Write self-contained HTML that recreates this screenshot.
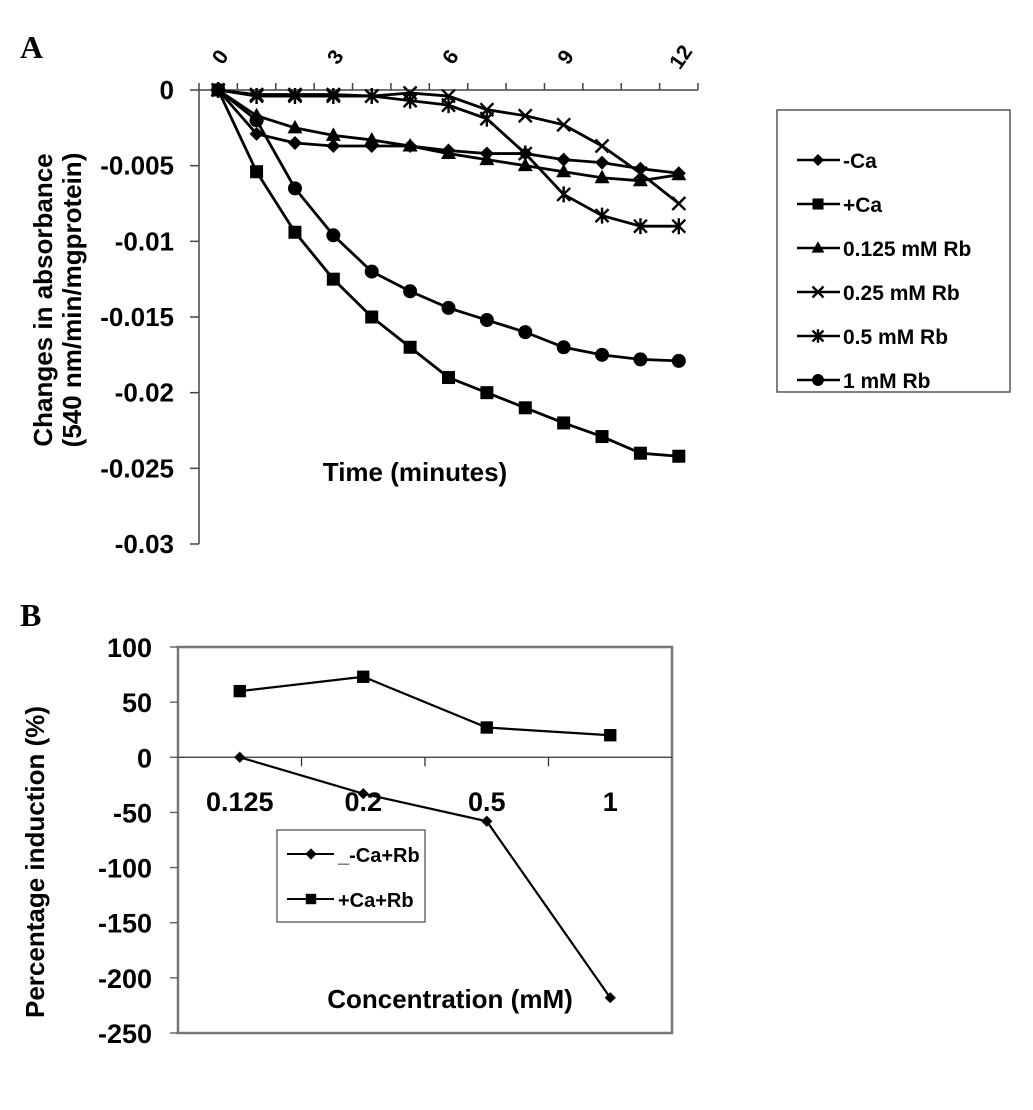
<!DOCTYPE html>
<html><head><meta charset="utf-8"><style>
html,body{margin:0;padding:0;background:#fff;}
svg{display:block;font-family:"Liberation Sans",Arial,sans-serif;font-weight:bold;}
</style></head><body>
<svg id="svg" width="1033" height="1110" viewBox="0 0 1033 1110" xmlns="http://www.w3.org/2000/svg">
<text x="20" y="58" font-family="Liberation Serif" font-size="32">A</text>
<text x="20" y="626" font-family="Liberation Serif" font-size="32">B</text>
<g id="chartA"></g>
<g id="chartB"></g>
</svg>
<script>
const timeCats = [0,1,2,3,4,5,6,7,8,9,10,11,12];
const timeTickLabels = ["0","3","6","9","12"];
const yTicksA = [0,-0.005,-0.01,-0.015,-0.02,-0.025,-0.03];
const yTickLabelsA = ["0","-0.005","-0.01","-0.015","-0.02","-0.025","-0.03"];
const seriesNamesA = ["-Ca","+Ca","0.125 mM Rb","0.25 mM Rb","0.5 mM Rb","1 mM Rb"];
const minusCa = [0,-0.0029,-0.0035,-0.0037,-0.0037,-0.0037,-0.004,-0.0042,-0.0042,-0.0046,-0.0048,-0.0052,-0.0055];
const plusCa = [0,-0.0054,-0.0094,-0.0125,-0.015,-0.017,-0.019,-0.020,-0.021,-0.022,-0.0229,-0.024,-0.0242];
const rb0125 = [0,-0.0017,-0.0025,-0.003,-0.0033,-0.0037,-0.0042,-0.0046,-0.005,-0.0054,-0.0058,-0.006,-0.0056];
const rb025 = [0,-0.0003,-0.0003,-0.0003,-0.0004,-0.0002,-0.0004,-0.0013,-0.0017,-0.0023,-0.0037,-0.0055,-0.0075];
const rb05 = [0,-0.0004,-0.0004,-0.0004,-0.0004,-0.0007,-0.001,-0.0019,-0.0042,-0.0069,-0.0083,-0.009,-0.009];
const rb1 = [0,-0.002,-0.0065,-0.0096,-0.012,-0.0133,-0.0144,-0.0152,-0.016,-0.017,-0.0175,-0.0178,-0.0179];

const concCats = ["0.125","0.2","0.5","1"];
const yTicksB = [100,50,0,-50,-100,-150,-200,-250];
const seriesNamesB = ["_-Ca+Rb","+Ca+Rb"];
const minusCaRb = [0,-33,-58,-218];
const plusCaRb = [60,73,27,20];

const NS="http://www.w3.org/2000/svg";
function mk(parent,tag,attrs,text){const e=document.createElementNS(NS,tag);for(const k in attrs)e.setAttribute(k,attrs[k]);if(text!==undefined)e.textContent=text;parent.appendChild(e);return e;}

function marker(g,type,x,y,s){
  let e;
  if(type==="diamond"){e=mk(g,"polygon",{points:`${x},${y-7*s} ${x+7*s},${y} ${x},${y+7*s} ${x-7*s},${y}`,fill:"#000"});}
  else if(type==="square"){e=mk(g,"rect",{x:x-6.5*s,y:y-6.5*s,width:13*s,height:13*s,fill:"#000"});}
  else if(type==="triangle"){e=mk(g,"polygon",{points:`${x},${y-8*s} ${x+7.5*s},${y+5.5*s} ${x-7.5*s},${y+5.5*s}`,fill:"#000"});}
  else if(type==="x"){e=mk(g,"path",{d:`M${x-6.5*s},${y-6.5*s}L${x+6.5*s},${y+6.5*s}M${x-6.5*s},${y+6.5*s}L${x+6.5*s},${y-6.5*s}`,stroke:"#000","stroke-width":2.4,fill:"none"});}
  else if(type==="star"){e=mk(g,"path",{d:`M${x-6.5*s},${y-6.5*s}L${x+6.5*s},${y+6.5*s}M${x-6.5*s},${y+6.5*s}L${x+6.5*s},${y-6.5*s}M${x},${y-8*s}L${x},${y+8*s}`,stroke:"#000","stroke-width":2.4,fill:"none"});}
  else {e=mk(g,"circle",{cx:x,cy:y,r:7*s,fill:"#000"});}
  return e;
}

// Chart A
(function(){
  const g=document.getElementById("chartA");
  const x0=199,x1=698,y0=90,y1=544,vmin=-0.03;
  const step=(x1-x0)/timeCats.length;
  const xs=i=>x0+(i+0.5)*step;
  const ys=v=>y0+(v/vmin)*(y1-y0);
  const ax=mk(g,"path",{d:`M${x0},${y0}V${y1}M${x0},${y0}H${x1}`,stroke:"#444","stroke-width":1.5,fill:"none"});
  
  
  for(let i=0;i<=timeCats.length;i++){const t=mk(g,"line",{x1:x0+i*step,x2:x0+i*step,y1:y0-7,y2:y0,stroke:"#444","stroke-width":1.5});}
  timeTickLabels.forEach((lab,k)=>{const i=k*3;const cx=xs(i)+2;
    const t=mk(g,"text",{x:cx,y:64,"font-size":21,"text-anchor":"middle",transform:`rotate(-55 ${cx} 57)`},lab);
    });
  yTicksA.forEach((v,i)=>{const y=ys(v);
    const t=mk(g,"line",{x1:x0-9,x2:x0,y1:y,y2:y,stroke:"#444","stroke-width":1.5});
    const l=mk(g,"text",{x:174,y:y+9,"font-size":26,"text-anchor":"end"},yTickLabelsA[i]);});
  const t1=mk(g,"text",{transform:"translate(52,300) rotate(-90)","font-size":26,"text-anchor":"middle"},"Changes in absorbance");
  
  const t2=mk(g,"text",{transform:"translate(81,300) rotate(-90)","font-size":26,"text-anchor":"middle"},"(540 nm/min/mgprotein)");
  
  const t3=mk(g,"text",{x:415,y:481,"font-size":26,"text-anchor":"middle"},"Time (minutes)");
  
  const all=[minusCa,plusCa,rb0125,rb025,rb05,rb1];
  const types=["diamond","square","triangle","x","star","circle"];
  all.forEach((arr,si)=>{
    const sg=mk(g,"g",{});
    
    
    mk(sg,"polyline",{points:arr.map((v,i)=>xs(i)+","+ys(v)).join(" "),fill:"none",stroke:"#000","stroke-width":2.8});
    arr.forEach((v,i)=>{const m=marker(sg,types[si],xs(i),ys(v),1);});
  });
  const lg=mk(g,"g",{});
  
  
  mk(lg,"rect",{x:777,y:110,width:233,height:282,fill:"#fff",stroke:"#555","stroke-width":1.5});
  seriesNamesA.forEach((n,i)=>{const y=160+i*44;
    const e=mk(lg,"g",{});
    mk(e,"line",{x1:797,x2:840,y1:y,y2:y,stroke:"#000","stroke-width":2.4});
    marker(e,types[i],818,y,0.85);
    mk(e,"text",{x:843,y:y+8,"font-size":21},n);});
})();

// Chart B
(function(){
  const g=document.getElementById("chartB");
  const x0=178,x1=672,y0=647,y1=1033,vmax=100,vmin=-250;
  const step=(x1-x0)/concCats.length;
  const xs=i=>x0+(i+0.5)*step;
  const ys=v=>y0+(vmax-v)/(vmax-vmin)*(y1-y0);
  const box=mk(g,"rect",{x:x0,y:y0,width:x1-x0,height:y1-y0,fill:"none",stroke:"#777","stroke-width":2.5});
  
  const zl=mk(g,"line",{x1:x0,x2:x1,y1:ys(0),y2:ys(0),stroke:"#333","stroke-width":1.3});
  
  for(let i=1;i<concCats.length;i++){const t=mk(g,"line",{x1:x0+i*step,x2:x0+i*step,y1:ys(0),y2:ys(0)+9,stroke:"#333","stroke-width":1.3});}
  concCats.forEach((c,i)=>{const t=mk(g,"text",{x:xs(i),y:811,"font-size":27,"text-anchor":"middle"},c);});
  yTicksB.forEach(v=>{const y=ys(v);
    const t=mk(g,"line",{x1:170,x2:x0,y1:y,y2:y,stroke:"#555","stroke-width":1.3});
    const l=mk(g,"text",{x:152,y:y+10,"font-size":27,"text-anchor":"end"},String(v));});
  const yt=mk(g,"text",{transform:"translate(44,862) rotate(-90)","font-size":26,"text-anchor":"middle"},"Percentage induction  (%)");
  
  const xt=mk(g,"text",{x:450,y:1008,"font-size":26,"text-anchor":"middle"},"Concentration (mM)");
  
  const all=[minusCaRb,plusCaRb];const types=["diamond","square"];
  all.forEach((arr,si)=>{
    const sg=mk(g,"g",{});
    
    
    mk(sg,"polyline",{points:arr.map((v,i)=>xs(i)+","+ys(v)).join(" "),fill:"none",stroke:"#000","stroke-width":2.2});
    arr.forEach((v,i)=>{const m=marker(sg,types[si],xs(i),ys(v),si?0.95:0.8);});
  });
  const lg=mk(g,"g",{});
  
  
  mk(lg,"rect",{x:277,y:830,width:148,height:92,fill:"#fff",stroke:"#555","stroke-width":1.3});
  seriesNamesB.forEach((n,i)=>{const y=854+i*45;
    const e=mk(lg,"g",{});
    mk(e,"line",{x1:287,x2:334,y1:y,y2:y,stroke:"#000","stroke-width":2});
    marker(e,types[i],311,y,0.8);
    mk(e,"text",{x:338,y:y+8,"font-size":20},n);});
})();
</script>
</body></html>
